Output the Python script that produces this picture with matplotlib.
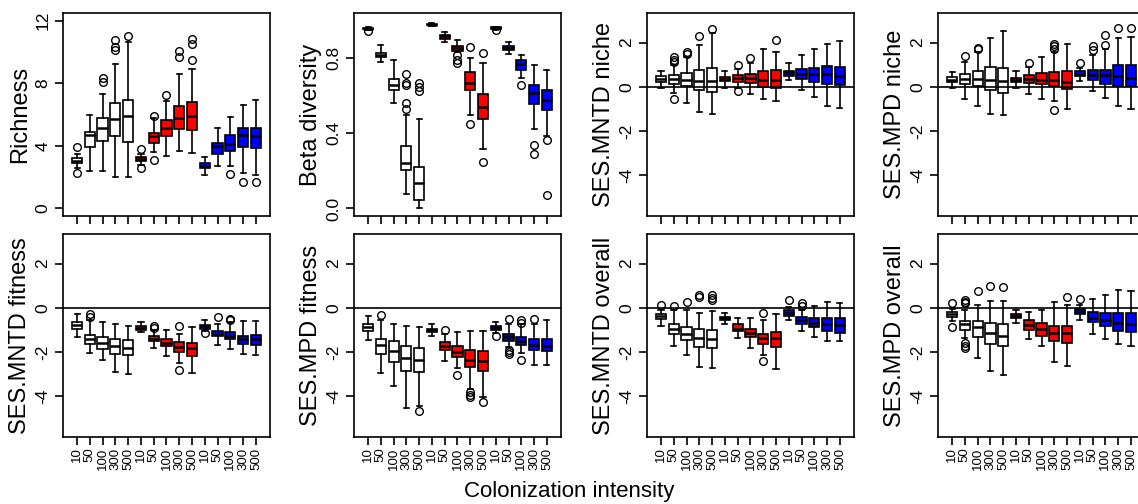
import matplotlib
matplotlib.use("Agg")
import matplotlib.pyplot as plt

# x categories (colonization intensity), three groups of five
intensity = ["10", "50", "100", "300", "500"] * 3

# Richness
rich_lo = [2.6, 2.4, 2.42, 2.03, 2.03, 2.8, 3.6, 3.35, 3.67, 3.56, 2.14, 2.73, 2.73, 2.25, 2.14]
rich_q1 = [2.88, 3.9, 4.32, 4.62, 4.26, 3.03, 4.2, 4.62, 5.05, 5.0, 2.56, 3.48, 3.69, 3.9, 3.84]
rich_med = [3.0, 4.68, 5.15, 5.72, 5.91, 3.15, 4.64, 5.15, 5.79, 5.91, 2.73, 4.0, 4.11, 4.68, 4.64]
rich_q3 = [3.2, 4.9, 5.75, 6.74, 6.95, 3.3, 4.85, 5.68, 6.57, 6.8, 2.88, 4.2, 4.66, 5.17, 5.17]
rich_hi = [3.5, 5.94, 7.3, 9.24, 10.62, 3.5, 5.75, 6.87, 8.56, 8.88, 3.3, 5.13, 5.85, 6.61, 6.91]
rich_out = [[3.9, 2.25], [], [8.35, 8.08], [10.77, 10.3, 10.1], [10.98], [3.8, 2.56], [5.9, 3.1],
            [7.27], [10.05, 9.7], [10.83, 10.5, 9.5], [], [], [2.2], [1.72], [1.72]]

# Beta diversity
beta_lo = [0.948, 0.78, 0.56, 0.076, 0.0, 0.97, 0.888, 0.832, 0.5, 0.315, 0.95, 0.823, 0.695, 0.421, 0.386]
beta_q1 = [0.953, 0.805, 0.628, 0.204, 0.044, 0.974, 0.903, 0.84, 0.632, 0.474, 0.955, 0.844, 0.738, 0.554, 0.522]
beta_med = [0.957, 0.818, 0.658, 0.244, 0.136, 0.977, 0.915, 0.853, 0.669, 0.54, 0.959, 0.855, 0.77, 0.614, 0.579]
beta_q3 = [0.962, 0.826, 0.69, 0.333, 0.221, 0.981, 0.924, 0.864, 0.726, 0.61, 0.963, 0.867, 0.788, 0.655, 0.632]
beta_hi = [0.966, 0.87, 0.79, 0.5, 0.474, 0.985, 0.938, 0.897, 0.8, 0.775, 0.967, 0.885, 0.814, 0.761, 0.738]
beta_out = [[0.945], [], [], [0.713, 0.667, 0.655, 0.563, 0.531], [0.67, 0.645, 0.625], [], [],
            [0.814, 0.788, 0.773], [0.858, 0.45], [0.826, 0.248], [0.947], [], [0.655], [0.34, 0.288], [0.363, 0.071]]

# SES.MNTD niche
mn_lo = [-0.05, -0.3, -0.75, -1.13, -1.23, -0.03, -0.03, -0.33, -0.53, -0.63, 0.3, -0.15, -0.45, -0.87, -0.95]
mn_q1 = [0.23, 0.15, 0.03, -0.15, -0.23, 0.26, 0.23, 0.18, 0.0, -0.03, 0.48, 0.35, 0.23, 0.15, 0.1]
mn_med = [0.36, 0.35, 0.33, 0.26, 0.27, 0.36, 0.41, 0.38, 0.33, 0.3, 0.63, 0.57, 0.57, 0.6, 0.48]
mn_q3 = [0.48, 0.53, 0.63, 0.75, 0.86, 0.45, 0.53, 0.57, 0.71, 0.75, 0.72, 0.83, 0.86, 0.93, 0.9]
mn_hi = [0.71, 0.98, 1.33, 1.91, 2.44, 0.71, 0.8, 1.1, 1.73, 1.58, 1.1, 1.46, 1.73, 1.96, 2.06]
mn_out = [[], [1.33, 1.2, 1.13, -0.53], [1.58, 1.5], [2.29], [2.6], [], [0.98, -0.18], [1.31], [],
          [2.11], [], [], [], [], []]

# SES.MPD niche
mp_lo = [-0.05, -0.56, -0.87, -1.23, -1.28, -0.03, -0.33, -0.53, -0.65, -1.02, 0.26, -0.2, -0.5, -0.86, -0.98]
mp_q1 = [0.23, 0.12, 0.05, -0.15, -0.27, 0.23, 0.18, 0.12, 0.05, -0.08, 0.48, 0.3, 0.15, 0.05, 0.03]
mp_med = [0.33, 0.36, 0.35, 0.3, 0.26, 0.33, 0.35, 0.3, 0.3, 0.23, 0.6, 0.53, 0.53, 0.48, 0.41]
mp_q3 = [0.45, 0.57, 0.71, 0.9, 0.87, 0.42, 0.53, 0.63, 0.68, 0.72, 0.71, 0.75, 0.78, 0.98, 0.98]
mp_hi = [0.68, 1.13, 1.58, 2.23, 2.51, 0.71, 0.9, 1.33, 1.58, 1.96, 0.86, 1.46, 1.73, 2.21, 2.26]
mp_out = [[], [1.39], [1.76, 1.69], [], [], [], [1.08], [], [1.96, 1.84, 1.73, -1.05], [], [1.08],
          [1.84, 1.66], [2.33, 1.88], [2.64], [2.68]]

# SES.MNTD fitness
mf_lo = [-1.31, -2.04, -2.34, -2.9, -2.97, -1.1, -1.81, -2.16, -2.49, -2.94, -1.06, -1.66, -1.86, -2.07, -2.11]
mf_q1 = [-0.94, -1.62, -1.84, -2.07, -2.14, -0.98, -1.51, -1.74, -2.0, -2.16, -0.94, -1.28, -1.43, -1.62, -1.66]
mf_med = [-0.78, -1.4, -1.58, -1.74, -1.81, -0.9, -1.39, -1.58, -1.77, -1.81, -0.86, -1.16, -1.28, -1.43, -1.43]
mf_q3 = [-0.65, -1.21, -1.31, -1.4, -1.46, -0.83, -1.28, -1.4, -1.55, -1.58, -0.78, -1.06, -1.1, -1.25, -1.21]
mf_hi = [-0.3, -0.53, -0.65, -0.75, -0.83, -0.65, -1.0, -0.98, -1.16, -0.88, -0.56, -0.75, -0.65, -0.6, -0.6]
mf_out = [[], [-0.3, -0.4], [], [], [], [], [-0.84, -0.92], [], [-0.83, -2.82], [], [-1.13], [-0.4],
          [-0.5, -0.56], [], []]

# SES.MPD fitness
pf_lo = [-1.46, -2.94, -3.52, -4.53, -4.45, -1.28, -2.39, -2.72, -3.66, -4.05, -1.13, -1.75, -2.04, -2.57, -2.57]
pf_q1 = [-1.06, -2.08, -2.45, -2.84, -2.91, -1.1, -1.92, -2.22, -2.67, -2.87, -1.01, -1.51, -1.69, -1.92, -1.96]
pf_med = [-0.88, -1.66, -1.96, -2.29, -2.37, -1.01, -1.74, -1.98, -2.34, -2.42, -0.92, -1.32, -1.5, -1.66, -1.71]
pf_q3 = [-0.72, -1.4, -1.48, -1.71, -1.81, -0.94, -1.56, -1.74, -1.92, -1.96, -0.83, -1.18, -1.31, -1.4, -1.4]
pf_hi = [-0.35, -0.56, -0.75, -0.83, -0.86, -0.72, -1.2, -1.1, -1.06, -1.06, -0.62, -0.75, -0.75, -0.71, -0.56]
pf_out = [[], [-0.33], [], [], [-4.65], [], [-0.98], [-3.02], [-3.8, -3.92, -4.03], [-4.27], [-1.28],
          [-0.5, -1.9, -2.0, -2.1], [-0.54, -0.68, -2.34], [-0.5], []]

# SES.MNTD overall
mo_lo = [-0.83, -1.71, -2.11, -2.67, -2.72, -0.72, -1.36, -1.81, -2.11, -2.76, -0.56, -1.06, -1.31, -1.51, -1.48]
mo_q1 = [-0.5, -1.16, -1.46, -1.77, -1.81, -0.56, -1.06, -1.31, -1.62, -1.77, -0.35, -0.71, -0.86, -1.06, -1.13]
mo_med = [-0.38, -0.94, -1.16, -1.36, -1.39, -0.48, -0.94, -1.13, -1.36, -1.36, -0.23, -0.56, -0.68, -0.75, -0.78]
mo_q3 = [-0.27, -0.72, -0.86, -0.95, -0.98, -0.41, -0.75, -0.94, -1.16, -1.1, -0.1, -0.41, -0.45, -0.45, -0.45]
mo_hi = [-0.1, -0.08, -0.1, -0.23, -0.15, -0.23, -0.48, -0.45, -0.56, -0.26, 0.05, -0.08, 0.08, 0.26, 0.2]
mo_out = [[0.15], [0.1], [0.27], [0.56, 0.48], [0.56, 0.45, 0.35], [], [], [], [-0.23, -2.42], [],
          [0.35], [0.2, 0.1], [], [], []]

# SES.MPD overall
po_lo = [-0.6, -1.36, -2.29, -2.87, -3.05, -0.68, -1.43, -1.74, -2.45, -2.61, -0.56, -1.16, -1.4, -1.63, -1.71]
po_q1 = [-0.41, -0.98, -1.31, -1.63, -1.74, -0.45, -0.98, -1.25, -1.51, -1.58, -0.3, -0.65, -0.83, -1.06, -1.1]
po_med = [-0.3, -0.75, -0.86, -1.13, -1.25, -0.38, -0.78, -0.95, -1.13, -1.13, -0.15, -0.45, -0.53, -0.68, -0.72]
po_q3 = [-0.2, -0.6, -0.6, -0.68, -0.75, -0.3, -0.57, -0.68, -0.8, -0.8, -0.03, -0.2, -0.23, -0.23, -0.23]
po_hi = [-0.05, -0.08, 0.15, 0.33, 0.33, -0.08, -0.18, -0.1, 0.26, 0.15, 0.15, 0.42, 0.57, 0.8, 0.78]
po_out = [[0.23, -0.86], [0.35, 0.26, 0.2, -1.58, -1.74, -1.81], [0.75], [0.98], [0.94], [], [], [], [],
          [0.5], [0.41], [], [], [], []]

box_colors = ["white"] * 5 + ["#ff0000"] * 5 + ["#0000ff"] * 5

plt.rcParams['font.family'] = ['Liberation Sans', 'DejaVu Sans']

W, H = 1138, 504
fig = plt.figure(figsize=(W / 100, H / 100), dpi=100)

col_left = [63, 354, 647, 938]
row_top = [13, 234]
ax_w, ax_h = 207, 203

ses_lim = (-5.84, 3.34)
ses_ticks = [-4, -2, 0, 2]

panels = [
    ("Richness", rich_lo, rich_q1, rich_med, rich_q3, rich_hi, rich_out, (-0.48, 12.48), [0, 4, 8, 12], False),
    ("Beta diversity", beta_lo, beta_q1, beta_med, beta_q3, beta_hi, beta_out, (-0.04, 1.04), [0.0, 0.4, 0.8], False),
    ("SES.MNTD niche", mn_lo, mn_q1, mn_med, mn_q3, mn_hi, mn_out, ses_lim, ses_ticks, True),
    ("SES.MPD niche", mp_lo, mp_q1, mp_med, mp_q3, mp_hi, mp_out, ses_lim, ses_ticks, True),
    ("SES.MNTD fitness", mf_lo, mf_q1, mf_med, mf_q3, mf_hi, mf_out, ses_lim, ses_ticks, True),
    ("SES.MPD fitness", pf_lo, pf_q1, pf_med, pf_q3, pf_hi, pf_out, ses_lim, ses_ticks, True),
    ("SES.MNTD overall", mo_lo, mo_q1, mo_med, mo_q3, mo_hi, mo_out, ses_lim, ses_ticks, True),
    ("SES.MPD overall", po_lo, po_q1, po_med, po_q3, po_hi, po_out, ses_lim, ses_ticks, True),
]

positions = list(range(1, 16))
lw = 1.2

for k, (label, lo, q1, med, q3, hi, out, ylim, yticks, zero_line) in enumerate(panels):
    row, col = k // 4, k % 4
    left = col_left[col] / W
    bottom = (H - row_top[row] - ax_h) / H
    ax = fig.add_axes([left, bottom, ax_w / W, ax_h / H])

    stats = []
    for i in range(15):
        stats.append({"whislo": lo[i], "q1": q1[i], "med": med[i], "q3": q3[i],
                      "whishi": hi[i], "fliers": out[i]})

    bp = ax.bxp(stats, positions=positions, widths=0.8, capwidths=0.4, patch_artist=True,
                boxprops=dict(edgecolor="black", linewidth=lw),
                medianprops=dict(color="black", linewidth=1.8),
                whiskerprops=dict(color="black", linewidth=lw),
                capprops=dict(color="black", linewidth=lw),
                flierprops=dict(marker="o", markerfacecolor="none", markeredgecolor="black",
                                markersize=5.5, markeredgewidth=1.0))
    for patch, c in zip(bp["boxes"], box_colors):
        patch.set_facecolor(c)

    if zero_line:
        ax.axhline(0, color="black", linewidth=lw, zorder=4)

    ax.set_xlim(-0.1, 16.1)
    ax.set_ylim(*ylim)
    ax.set_yticks(yticks)
    if label == "Beta diversity":
        ax.set_yticklabels(["0.0", "0.4", "0.8"])
    else:
        ax.set_yticklabels([str(t) for t in yticks])
    for t in ax.get_yticklabels():
        t.set_rotation(90)
        t.set_va("center")
    ax.set_xticks(positions)
    if row == 1:
        ax.set_xticklabels(intensity, rotation=90, fontsize=9.5)
    else:
        ax.set_xticklabels([])

    ax.tick_params(axis="both", direction="out", length=6, width=lw, top=False, right=False)
    ax.tick_params(axis="y", labelsize=12.5, pad=3)
    ax.tick_params(axis="x", pad=1.5)
    for sp in ax.spines.values():
        sp.set_linewidth(lw)

    ax.text(-43 / ax_w, 0.5, label, transform=ax.transAxes, rotation=90,
            ha="center", va="center", fontsize=17)

fig.text(0.5, (H - 491) / H, "Colonization intensity", ha="center", va="center", fontsize=16)

fig.savefig("out.png", dpi=100)
